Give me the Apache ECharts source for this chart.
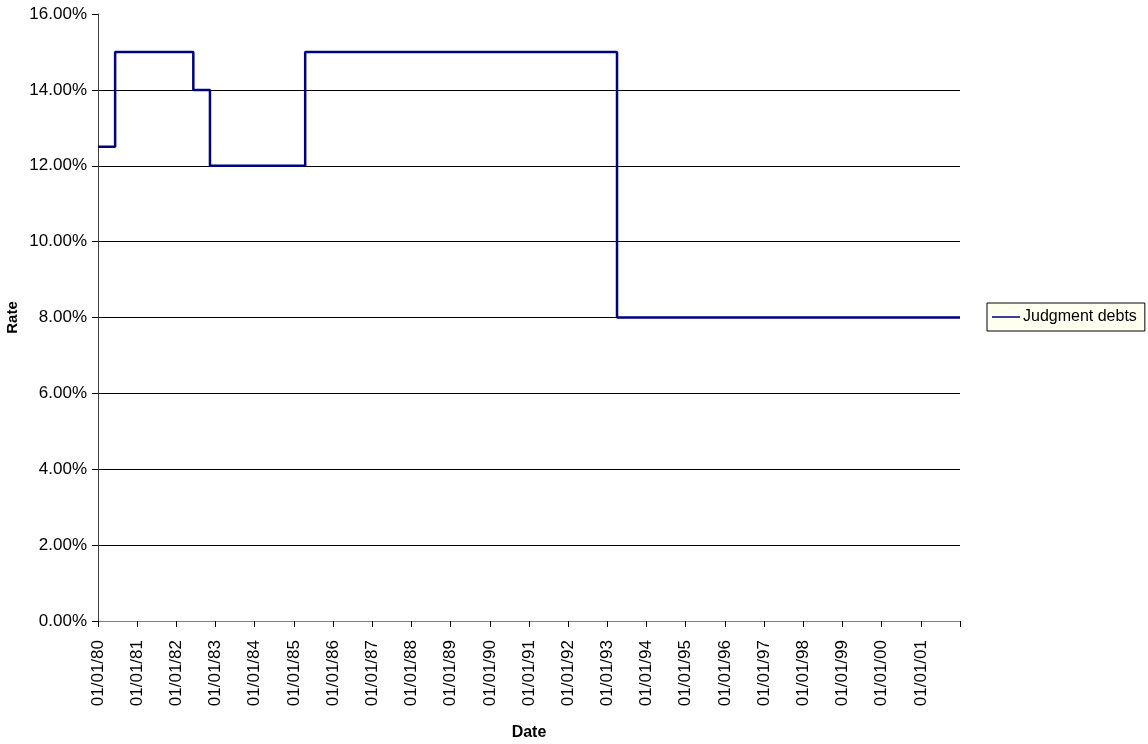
<!DOCTYPE html>
<html>
<head>
<meta charset="utf-8">
<script src="https://cdn.jsdelivr.net/npm/echarts@6/dist/echarts.min.js"></script>
<style>
html,body{margin:0;padding:0;background:#fff;}
#chart{width:1148px;height:744px;}
</style>
</head>
<body>
<div id="chart"></div>
<script>
// Step change dates and the rate that applies from each date
const changeDates = ['1980-01-01','1980-06-09','1982-06-08','1982-11-10','1985-04-16','1993-04-01','2002-01-01'];
const rates = [0.125, 0.15, 0.14, 0.12, 0.15, 0.08, 0.08];
const seriesName = 'Judgment debts';
const yearTicks = [1980,1981,1982,1983,1984,1985,1986,1987,1988,1989,1990,1991,1992,1993,1994,1995,1996,1997,1998,1999,2000,2001,2002];

function toYear(s){
  const p = s.split('-').map(Number);
  const t = Date.UTC(p[0], p[1]-1, p[2]);
  const a = Date.UTC(p[0],0,1), b = Date.UTC(p[0]+1,0,1);
  return p[0] + (t-a)/(b-a);
}
const data = changeDates.map((d,i)=>[toYear(d), rates[i]]);

const FONT = '"Liberation Sans", Arial, sans-serif';
const chart = echarts.init(document.getElementById('chart'), null, {renderer:'canvas'});
chart.setOption({
  animation:false,
  backgroundColor:'#fff',
  textStyle:{fontFamily:FONT},
  grid:{left:98, right:188, top:14, bottom:123, containLabel:false, outerBoundsMode:'none'},
  legend:{
    show:true, left:987, top:303, orient:'vertical',
    data:[seriesName],
    backgroundColor:'#FFFFF0', borderColor:'#000', borderWidth:1,
    padding:[6,8,6,5], itemWidth:28, itemHeight:1.5, icon:'rect',
    textStyle:{fontFamily:FONT, fontSize:16, color:'#000', padding:[0,0,0,-2]}
  },
  xAxis:{
    type:'value', min:yearTicks[0], max:yearTicks[yearTicks.length-1], interval:1,
    name:'Date', nameLocation:'middle', nameGap:104, nameMoveOverlap:false,
    nameTextStyle:{fontFamily:FONT, fontSize:16, fontWeight:'bold', color:'#000'},
    axisLine:{show:true, onZero:false, lineStyle:{color:'#808080', width:1}},
    axisTick:{show:true, inside:false, length:6, lineStyle:{color:'#000'}},
    axisLabel:{
      rotate:90, margin:19, fontSize:17, color:'#000', fontFamily:FONT,
      showMaxLabel:true,
      formatter:function(v){ return v===yearTicks[yearTicks.length-1] ? '' : '01/01/' + String(v).slice(2); }
    },
    splitLine:{show:false}
  },
  yAxis:{
    type:'value', min:0, max:0.16, interval:0.02,
    name:'Rate', nameLocation:'middle', nameGap:78, nameRotate:90, nameMoveOverlap:false,
    nameTextStyle:{fontFamily:FONT, fontSize:15, fontWeight:'bold', color:'#000'},
    axisLine:{show:true, lineStyle:{color:'#404040', width:1}},
    axisTick:{show:true, inside:false, length:6, lineStyle:{color:'#000'}},
    axisLabel:{margin:11, fontSize:17, color:'#000', fontFamily:FONT,
      formatter:function(v){ return (v*100).toFixed(2)+'%'; }},
    splitLine:{show:true, showMinLine:false, showMaxLine:false, lineStyle:{color:'#000', width:1}}
  },
  series:[{
    name:seriesName, type:'line', step:'end', data:data,
    showSymbol:false, symbol:'none',
    lineStyle:{color:'#000080', width:2.5},
    itemStyle:{color:'#000080'}
  }]
});
</script>
</body>
</html>
